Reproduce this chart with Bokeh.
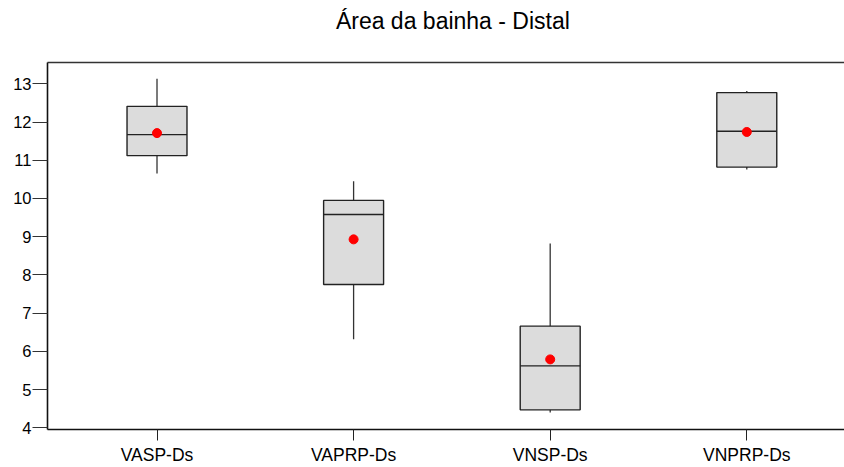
from bokeh.plotting import figure
from bokeh.models import Range1d, LinearAxis, FixedTicker, ColumnDataSource
from bokeh.embed import file_html
from bokeh.resources import INLINE

# Summary statistics per group
categories = ["VASP-Ds", "VAPRP-Ds", "VNSP-Ds", "VNPRP-Ds"]
whisker_low = [10.65, 6.32, 4.40, 10.76]
q1 = [11.12, 7.75, 4.47, 10.82]
median = [11.67, 9.58, 5.62, 11.76]
q3 = [12.41, 9.95, 6.66, 12.77]
whisker_high = [13.13, 10.45, 8.82, 12.81]
mean = [11.71, 8.93, 5.79, 11.74]
y_ticks = [4, 5, 6, 7, 8, 9, 10, 11, 12, 13]
title_text = "Área da bainha - Distal"

positions = [i + 1 for i in range(len(categories))]
box_w = 0.305
title_x = 2.505  # horizontal anchor of the heading, in x-axis units

src = ColumnDataSource(dict(
    x=positions, lo=whisker_low, q1=q1, med=median, q3=q3, hi=whisker_high,
    mean=mean, left=[p - box_w / 2 for p in positions],
    right=[p + box_w / 2 for p in positions],
))

FONT = "Liberation Sans"

p = figure(width=844, height=467, output_backend="svg", toolbar_location=None,
           x_range=Range1d(0.443, 4.497), y_range=Range1d(3.956, 13.557))
p.min_border_left = 47
p.min_border_right = 0
p.min_border_top = 62
p.min_border_bottom = 37
p.outline_line_color = None
p.background_fill_color = "white"
p.border_fill_color = "white"
p.xgrid.grid_line_color = None
p.ygrid.grid_line_color = None

# whiskers
p.segment(x0="x", y0="q3", x1="x", y1="hi", source=src, line_color="#333333", line_width=1.3)
p.segment(x0="x", y0="lo", x1="x", y1="q1", source=src, line_color="#333333", line_width=1.3)
# boxes
p.vbar(x="x", bottom="q1", top="q3", width=box_w, source=src,
       fill_color="#dcdcdc", line_color="#222222", line_width=1.4)
# medians
p.segment(x0="left", y0="med", x1="right", y1="med", source=src,
          line_color="#222222", line_width=1.4)
# means
p.scatter(x="x", y="mean", source=src, size=9, marker="circle",
          fill_color="#ff0000", line_color="#ff0000")

# axes
xa = p.xaxis[0]
xa.ticker = FixedTicker(ticks=positions)
xa.major_label_overrides = {pos: c for pos, c in zip(positions, categories)}
xa.minor_tick_line_color = None
xa.major_tick_out = 11
xa.major_tick_in = 0
xa.major_label_standoff = 4
xa.axis_line_width = 1.6
xa.axis_line_color = "#111111"
xa.major_tick_line_color = "#222222"
xa.major_label_text_font = FONT
xa.major_label_text_font_size = "17.5px"
xa.major_label_text_color = "black"

ya = p.yaxis[0]
ya.ticker = FixedTicker(ticks=y_ticks)
ya.minor_tick_line_color = None
ya.major_tick_out = 15
ya.major_tick_in = 0
ya.major_label_standoff = 1
ya.axis_line_width = 1.6
ya.axis_line_color = "#111111"
ya.major_tick_line_color = "#333333"
ya.major_label_text_font = FONT
ya.major_label_text_font_size = "16.5px"
ya.major_label_text_color = "black"

# top frame line, carrying the chart heading
top = LinearAxis(ticker=FixedTicker(ticks=[title_x]),
                 major_label_overrides={title_x: title_text},
                 axis_line_color="#333333", axis_line_width=1.4,
                 major_tick_line_color=None, major_tick_out=0, major_tick_in=0,
                 minor_tick_line_color=None, major_label_standoff=29,
                 major_label_text_font=FONT, major_label_text_font_size="23px",
                 major_label_text_color="black")
p.add_layout(top, "above")

open("out.html", "w").write(file_html(p, INLINE))
